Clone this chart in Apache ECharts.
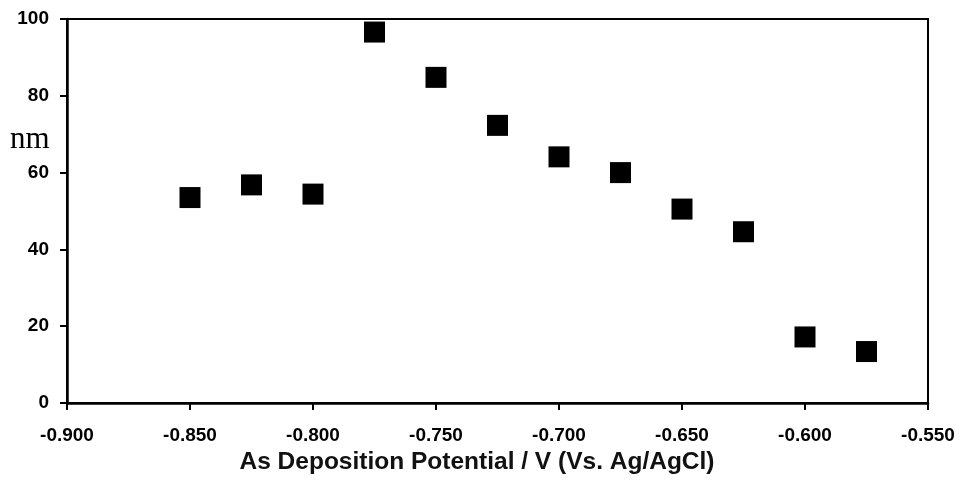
<!DOCTYPE html>
<html>
<head>
<meta charset="utf-8">
<script src="https://cdn.jsdelivr.net/npm/echarts@6/dist/echarts.min.js"></script>
<style>html,body{margin:0;padding:0;background:#fff}#c{width:961px;height:488px}</style>
</head>
<body>
<div id="c"></div>
<script>
var potentials = [-0.850, -0.825, -0.800, -0.775, -0.750, -0.725, -0.700, -0.675, -0.650, -0.625, -0.600, -0.575];
var sizes = [53.5, 56.8, 54.4, 96.6, 84.8, 72.3, 64.1, 60.0, 50.5, 44.6, 17.2, 13.4];
var xTitle = 'As Deposition Potential / V (Vs. Ag/AgCl)';
var yTitle = 'nm';

var chart = echarts.init(document.getElementById('c'));
var data = potentials.map(function (x, i) { return [x, sizes[i]]; });
chart.setOption({
  animation: false,
  grid: { left: 67, right: 33, top: 19, bottom: 85, show: true, borderColor: '#000', borderWidth: 2, backgroundColor: 'transparent' },
  xAxis: {
    type: 'value', min: -0.9, max: -0.55, interval: 0.05,
    axisLine: { show: true, onZero: false, lineStyle: { color: '#000', width: 2.5 } },
    axisTick: { show: true, inside: false, length: 7, lineStyle: { color: '#000', width: 2 } },
    splitLine: { show: false },
    axisLabel: { color: '#000', fontFamily: 'Liberation Sans', fontWeight: 'bold', fontSize: 19, margin: 23,
      formatter: function (v) { return v.toFixed(3); } },
    name: ''
  },
  yAxis: {
    type: 'value', min: 0, max: 100, interval: 20,
    axisLine: { show: true, onZero: false, lineStyle: { color: '#000', width: 2.5 } },
    axisTick: { show: true, inside: false, length: 7, lineStyle: { color: '#000', width: 2 } },
    splitLine: { show: false },
    axisLabel: { color: '#000', fontFamily: 'Liberation Sans', fontWeight: 'bold', fontSize: 19, margin: 18 }
  },
  graphic: [{
    type: 'text', x: 10, y: 140,
    style: { text: yTitle, fill: '#000', font: '31px "Liberation Serif"', verticalAlign: 'middle' }
  }, {
    type: 'text', x: 477, y: 462,
    style: { text: xTitle, fill: '#111', font: 'bold 24.5px "Liberation Sans"', align: 'center', verticalAlign: 'middle' }
  }],
  series: [{
    type: 'scatter', data: data, symbol: 'rect', symbolSize: 21,
    itemStyle: { color: '#000', opacity: 1 }
  }]
});
</script>
</body>
</html>
